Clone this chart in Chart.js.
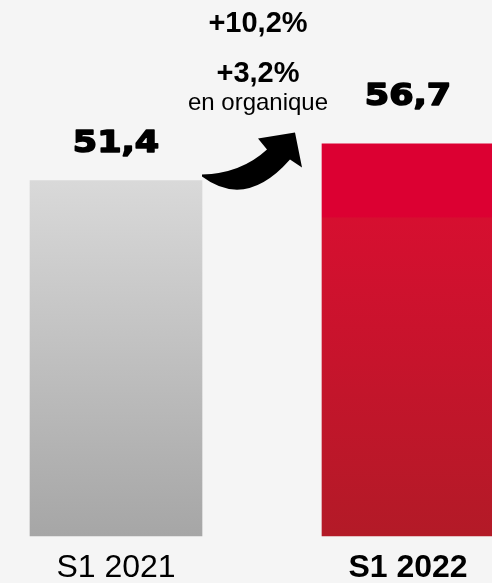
<!DOCTYPE html>
<html>
<head>
<meta charset="utf-8">
<script src="https://cdn.jsdelivr.net/npm/chart.js@4/dist/chart.umd.min.js"></script>
<style>
  html, body { margin: 0; padding: 0; background: #f5f5f5; }
  #wrap { width: 492px; height: 583px; }
  .probe { position: absolute; left: -999px; top: 0; }
</style>
</head>
<body>
<div id="wrap"><canvas id="myChart" width="492" height="583"></canvas></div>
<span class="probe" style="font-family: 'Liberation Sans'">S1 2021</span>
<span class="probe" style="font-family: 'Liberation Sans'; font-weight: bold">S1 2022</span>
<span class="probe" style="font-family: 'DejaVu Sans'; font-weight: bold">56,7</span>
<script>
// chart data
const periods = ["S1 2021", "S1 2022"]
const revenue = [51.4, 56.7]
const revenueLabels = ["51,4", "56,7"]
const growthTotal = "+10,2%"
const growthOrganic = "+3,2%"
const organicNote = "en organique"

const FONT = "Liberation Sans"
const HEAVY = "DejaVu Sans"

function barGradient(context) {
    const chart = context.chart
    if (!chart.chartArea) return "#cccccc"
    const y = chart.scales.y
    const top = y.getPixelForValue(revenue[context.dataIndex])
    const bottom = y.getPixelForValue(0)
    const g = chart.ctx.createLinearGradient(0, top, 0, bottom)
    if (context.dataIndex == 0) {
        g.addColorStop(0, "#d9d9d9")
        g.addColorStop(1, "#a6a6a6")
    } else {
        g.addColorStop(0, "#dc0032")
        g.addColorStop(0.185, "#dc0032")
        g.addColorStop(0.19, "#d60f30")
        g.addColorStop(1, "#b31a27")
    }
    return g
}

const background = {
    id: "background",
    beforeDraw(chart) {
        const ctx = chart.ctx
        ctx.save()
        ctx.fillStyle = "#f5f5f5"
        ctx.fillRect(0, 0, chart.width, chart.height)
        ctx.restore()
    }
}

const annotations = {
    id: "annotations",
    afterDatasetsDraw(chart) {
        const ctx = chart.ctx
        const bars = chart.getDatasetMeta(0).data
        const offsets = [29, 39]
        ctx.save()
        ctx.fillStyle = "#000"
        ctx.strokeStyle = "#000"
        ctx.textAlign = "center"
        ctx.textBaseline = "alphabetic"

        // value labels over the bars (heavy look: bold + stroke, a bit wider)
        ctx.font = "bold 31px '" + HEAVY + "'"
        ctx.lineWidth = 1.6
        ctx.lineJoin = "round"
        bars.forEach((bar, i) => {
            ctx.save()
            ctx.translate(bar.x, bar.y - offsets[i])
            ctx.scale(1.13, 1)
            ctx.fillText(revenueLabels[i], 0, 0)
            ctx.strokeText(revenueLabels[i], 0, 0)
            ctx.restore()
        })

        // growth texts between the bars
        const mid = (bars[0].x + bars[1].x) / 2 - 4
        ctx.font = "bold 29px '" + FONT + "'"
        ctx.fillText(growthTotal, mid, 32)
        ctx.fillText(growthOrganic, mid, 82)
        ctx.font = "24px '" + FONT + "'"
        ctx.fillText(organicNote, mid, 110)

        // curved arrow from first bar to second
        const ox = bars[0].x + bars[0].width / 2
        const oy = bars[0].y
        ctx.beginPath()
        ctx.moveTo(ox, oy - 6)
        ctx.quadraticCurveTo(ox + 39, oy - 7, ox + 65, oy - 31)
        ctx.lineTo(ox + 56, oy - 42)
        ctx.lineTo(ox + 93, oy - 48)
        ctx.lineTo(ox + 100, oy - 13)
        ctx.lineTo(ox + 88, oy - 21)
        ctx.quadraticCurveTo(ox + 44, oy + 29, ox, oy - 4)
        ctx.closePath()
        ctx.fill()
        ctx.restore()
    }
}

function drawChart() {
    const ctx = document.getElementById("myChart")
    new Chart(ctx, {
        type: "bar",
        data: {
            labels: periods,
            datasets: [{
                data: revenue,
                backgroundColor: barGradient,
                barThickness: 172,
                clip: false
            }]
        },
        options: {
            responsive: false,
            animation: false,
            layout: { padding: { left: 116, right: 84, top: 0, bottom: 0 } },
            plugins: {
                legend: { display: false },
                tooltip: { enabled: false }
            },
            scales: {
                x: {
                    offset: false,
                    grid: { display: false, drawTicks: false },
                    border: { display: false },
                    afterFit: (scale) => { scale.height = 47 },
                    ticks: {
                        color: "#000",
                        padding: 16,
                        font: (c) => ({
                            family: FONT,
                            size: 32,
                            lineHeight: 1,
                            weight: c.index == 1 ? "bold" : "normal"
                        })
                    }
                },
                y: {
                    display: false,
                    min: 0,
                    max: 77.5
                }
            }
        },
        plugins: [background, annotations]
    })
}

Promise.all([
    document.fonts.load("32px 'Liberation Sans'"),
    document.fonts.load("bold 32px 'Liberation Sans'"),
    document.fonts.load("bold 31px 'DejaVu Sans'")
]).then(drawChart, drawChart)
</script>
</body>
</html>
